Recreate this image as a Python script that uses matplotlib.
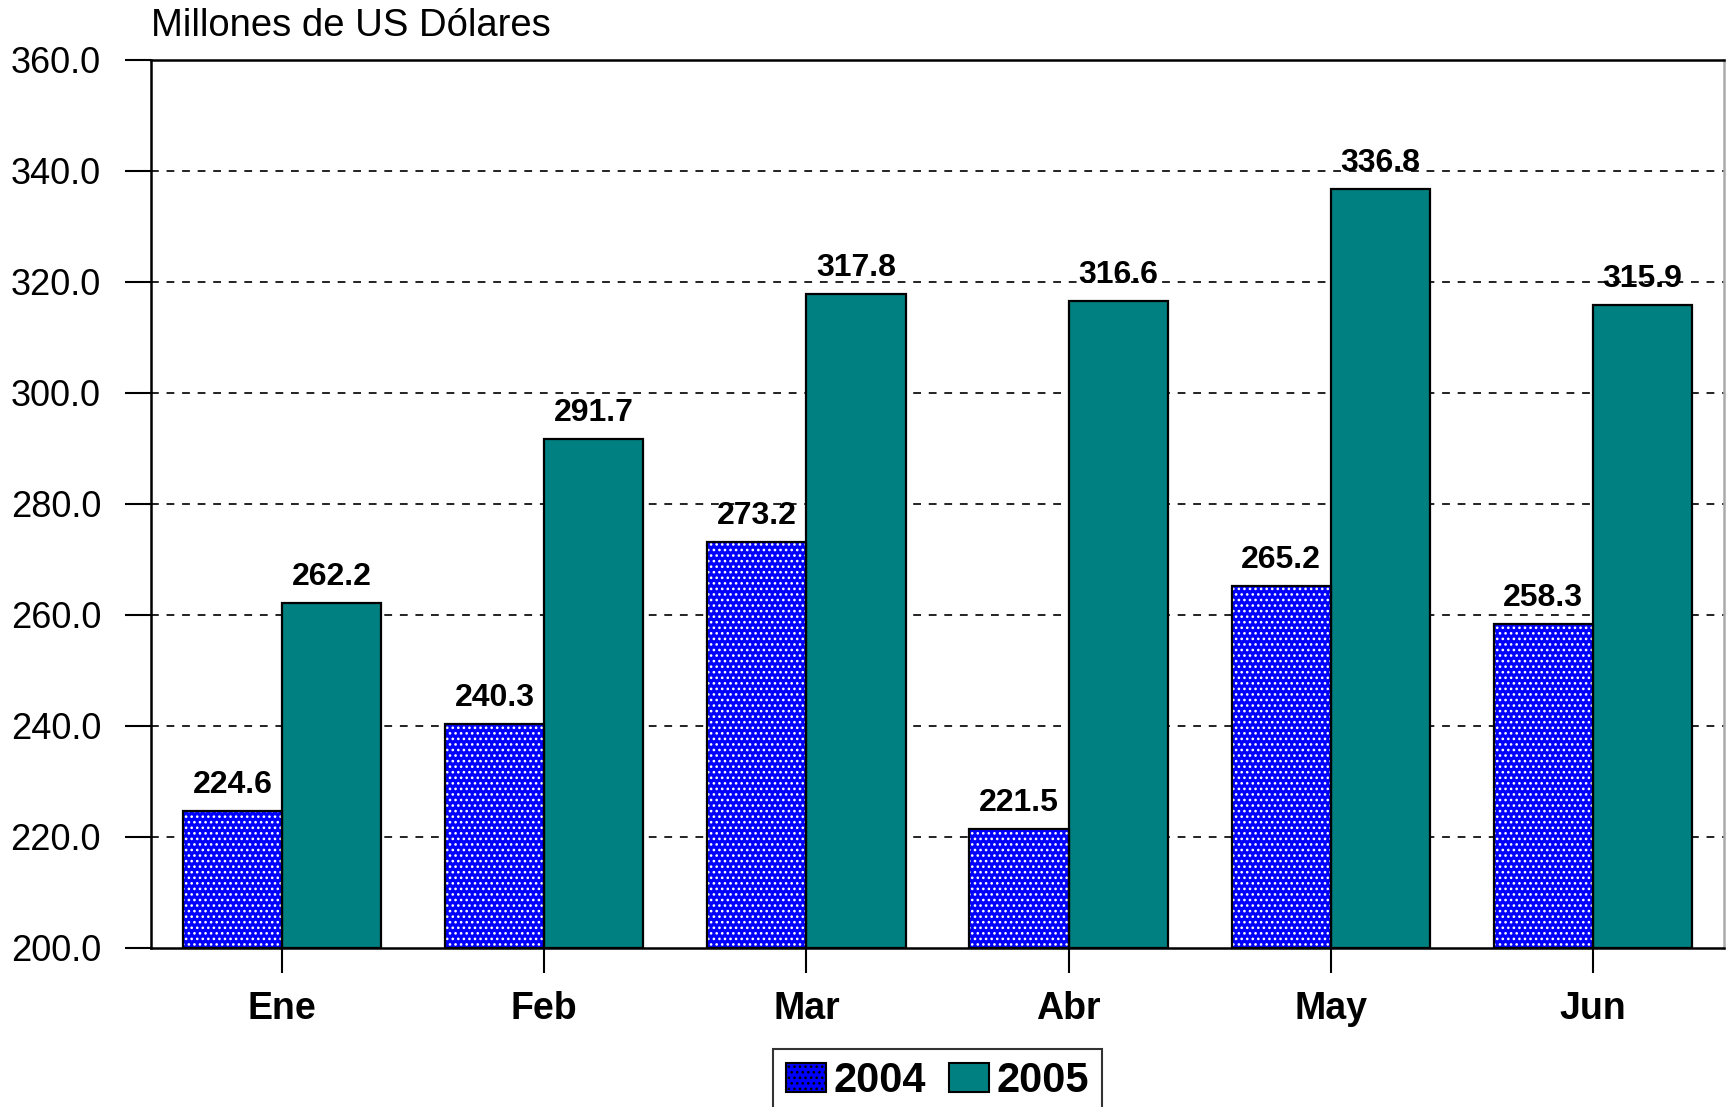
import matplotlib
matplotlib.use("Agg")
from matplotlib import pyplot as plt
from matplotlib.patches import Patch
import numpy as np

plt.rcParams['font.family'] = ['Liberation Sans', 'DejaVu Sans']
plt.rcParams['hatch.linewidth'] = 1.1

meses = ["Ene", "Feb", "Mar", "Abr", "May", "Jun"]
v2004 = [224.6, 240.3, 273.2, 221.5, 265.2, 258.3]
v2005 = [262.2, 291.7, 317.8, 316.6, 336.8, 315.9]
yticks = [200, 220, 240, 260, 280, 300, 320, 340, 360]

azul = "#0000ff"
verde = "#008080"

fig = plt.figure(figsize=(17.26, 11.07), dpi=100)
ax = fig.add_axes([151 / 1726, 1 - 948 / 1107, (1724 - 151) / 1726, (948 - 60) / 1107])

x = np.arange(len(meses))
w = 0.378

# 2004: blue with white dots, then black outline
ax.bar(x - w / 2, np.array(v2004) - 200, w, bottom=200, color=azul,
       edgecolor="white", hatch="...", linewidth=0, zorder=3)
ax.bar(x - w / 2, np.array(v2004) - 200, w, bottom=200, fill=False,
       edgecolor="black", linewidth=1.6, zorder=4)
ax.bar(x + w / 2, np.array(v2005) - 200, w, bottom=200, color=verde,
       edgecolor="black", linewidth=1.6, zorder=3)

for i in range(len(meses)):
    ax.text(x[i] - w / 2, v2004[i] + 2.0, f"{v2004[i]:.1f}", ha="center",
            va="bottom", fontsize=23, fontweight="bold", zorder=5)
    ax.text(x[i] + w / 2, v2005[i] + 2.0, f"{v2005[i]:.1f}", ha="center",
            va="bottom", fontsize=23, fontweight="bold", zorder=5)

ax.set_xlim(-0.5, len(meses) - 0.5)
ax.set_ylim(200, 360)
ax.set_yticks(yticks)
ax.set_yticklabels([f"{t:.1f}" for t in yticks], fontsize=26)
ax.set_xticks(x)
ax.set_xticklabels(meses, fontsize=27, fontweight="bold")
ax.tick_params(axis="y", length=19, width=1.5, direction="out", pad=17)
ax.tick_params(axis="x", length=18, width=1.5, direction="out", pad=13)

for t in yticks[1:-1]:
    ax.axhline(t, color="#222222", linestyle=(0, (4, 4)), linewidth=1.4, zorder=1)

for s in ax.spines.values():
    s.set_linewidth(1.8)
ax.spines["right"].set_color("#aaaaaa")

fig.text(151 / 1726, 1 - 26 / 1107, "Millones de US Dólares", fontsize=27.5,
         ha="left", va="center")

h1 = Patch(facecolor=azul, edgecolor="black", hatch="...", linewidth=1.5)
h2 = Patch(facecolor=verde, edgecolor="black", linewidth=1.5)
leg = ax.legend([h1, h2], ["2004", "2005"], loc="upper center",
                bbox_to_anchor=(0.5, -0.09), ncol=2, frameon=True,
                fancybox=False, edgecolor="black", handlelength=0.98,
                handleheight=0.7, handletextpad=0.18, columnspacing=0.53,
                borderpad=0.3, prop={"size": 30, "weight": "bold"})
leg.get_frame().set_linewidth(1.5)

fig.savefig("out.png", dpi=100)
